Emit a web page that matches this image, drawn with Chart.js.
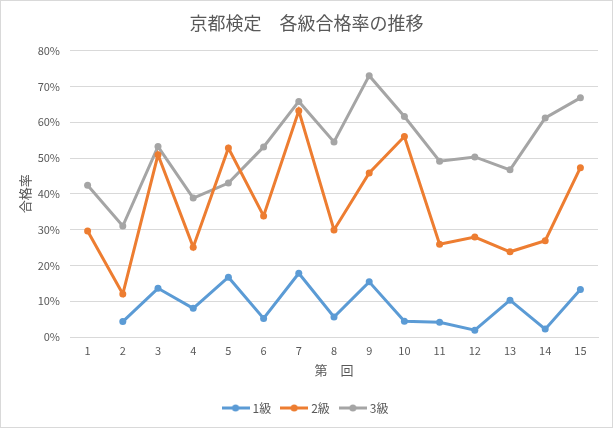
<!DOCTYPE html>
<html>
<head>
<meta charset="utf-8">
<script src="https://cdn.jsdelivr.net/npm/chart.js@4"></script>
<style>
  html, body { margin: 0; padding: 0; background: #fff; }
  #wrap { width: 613px; height: 428px; }
</style>
</head>
<body>
<div id="wrap"><canvas id="chart" width="613" height="428"></canvas></div>
<script>
// 回 (x axis)
const rounds = ['1', '2', '3', '4', '5', '6', '7', '8', '9', '10', '11', '12', '13', '14', '15'];
// 合格率 (%)
const kyu1 = [null, 4.3, 13.6, 8.0, 16.7, 5.2, 17.8, 5.6, 15.4, 4.4, 4.1, 1.9, 10.3, 2.2, 13.3];
const kyu2 = [29.6, 12.0, 50.9, 25.1, 52.8, 33.8, 63.2, 29.9, 45.8, 56.0, 25.9, 27.9, 23.8, 26.9, 47.3];
const kyu3 = [42.4, 31.0, 53.2, 38.8, 43.0, 53.1, 65.8, 54.5, 73.0, 61.6, 49.1, 50.3, 46.7, 61.2, 66.8];
const seriesNames = ['1級', '2級', '3級'];
const colors = ['#5B9BD5', '#ED7D31', '#A5A5A5'];

const FONT = '"Noto Sans CJK JP", "Noto Sans", sans-serif';
const TEXT = '#595959';

// legend marker: line with a dot
function legendMark(color) {
    const c = document.createElement('canvas');
    c.width = 28; c.height = 8;
    const g = c.getContext('2d');
    g.strokeStyle = color;
    g.lineWidth = 3;
    g.beginPath(); g.moveTo(0, 4); g.lineTo(28, 4); g.stroke();
    g.fillStyle = color;
    g.beginPath(); g.arc(14, 4, 3.5, 0, Math.PI * 2); g.fill();
    return c;
}

const frame = {
    id: 'frame',
    beforeDraw(chart) {
        const ctx = chart.ctx;
        ctx.save();
        ctx.fillStyle = '#fff';
        ctx.fillRect(0, 0, chart.width, chart.height);
        ctx.strokeStyle = '#D9D9D9';
        ctx.lineWidth = 1;
        ctx.strokeRect(0.5, 0.5, chart.width - 1, chart.height - 1);
        ctx.restore();
    }
};

function makeSet(label, data, color) {
    return {
        label: label,
        data: data,
        borderColor: color,
        backgroundColor: color,
        borderWidth: 3,
        pointRadius: 3.5,
        pointHoverRadius: 3.5,
        pointBorderWidth: 0,
        tension: 0
    };
}

new Chart(document.getElementById('chart'), {
    type: 'line',
    data: {
        labels: rounds,
        datasets: [
            makeSet(seriesNames[0], kyu1, colors[0]),
            makeSet(seriesNames[1], kyu2, colors[1]),
            makeSet(seriesNames[2], kyu3, colors[2])
        ]
    },
    plugins: [frame],
    options: {
        responsive: false,
        animation: false,
        layout: { padding: { top: 8, right: 0, bottom: 4, left: 0 } },
        plugins: {
            title: {
                display: true,
                text: '京都検定　各級合格率の推移',
                color: TEXT,
                font: { family: FONT, size: 18, weight: 'normal' },
                padding: { top: 4, bottom: 17 }
            },
            legend: {
                position: 'bottom',
                labels: {
                    color: TEXT,
                    font: { family: FONT, size: 12 },
                    usePointStyle: true,
                    pointStyleWidth: 22,
                    padding: 12,
                    generateLabels(chart) {
                        const items = Chart.defaults.plugins.legend.labels.generateLabels(chart);
                        items.forEach((it, i) => { it.pointStyle = legendMark(colors[i]); });
                        return items;
                    }
                }
            },
            tooltip: { enabled: false }
        },
        scales: {
            x: {
                offset: true,
                grid: { display: false, drawTicks: false },
                border: { display: true, color: '#D9D9D9' },
                ticks: { color: TEXT, font: { family: FONT, size: 11 }, padding: 7 },
                title: {
                    display: true,
                    text: '第　回',
                    color: TEXT,
                    font: { family: FONT, size: 13 },
                    padding: { top: 2, bottom: 12 }
                },
                afterFit(scale) { scale.height = 53; }
            },
            y: {
                min: 0,
                max: 80,
                grid: { color: '#D9D9D9', drawTicks: false },
                border: { display: false },
                ticks: {
                    stepSize: 10,
                    color: TEXT,
                    font: { family: FONT, size: 11 },
                    padding: 10,
                    callback: v => v + '%'
                },
                title: {
                    display: true,
                    text: '合格率',
                    color: TEXT,
                    font: { family: FONT, size: 13 },
                    padding: { top: 17, bottom: 0 }
                },
                afterFit(scale) { scale.width = 70; }
            },
            // empty right-hand strip so the title centres on the whole chart
            yRight: {
                position: 'right',
                grid: { display: false, drawTicks: false },
                border: { display: false },
                ticks: { display: false },
                afterFit(scale) { scale.width = 15; }
            }
        }
    }
});
</script>
</body>
</html>
